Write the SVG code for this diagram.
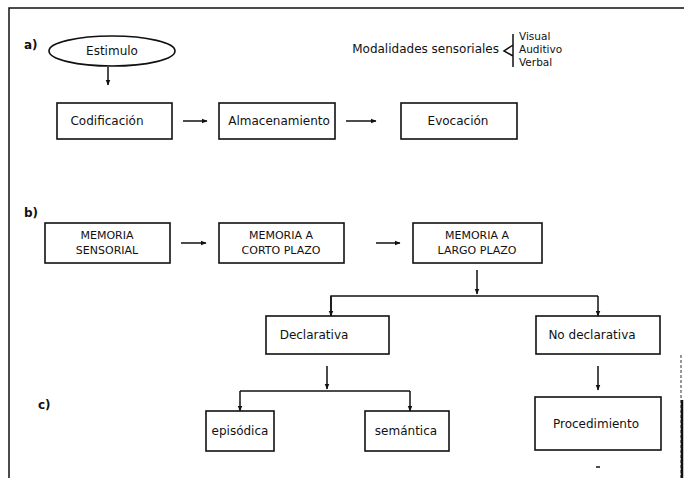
<svg xmlns="http://www.w3.org/2000/svg" width="684" height="478" viewBox="0 0 684 478">
<style>
.box{fill:none;stroke:#111;stroke-width:1.6}
.ln{fill:none;stroke:#111;stroke-width:1.5}
.ar{fill:none;stroke:#111;stroke-width:1.5;marker-end:url(#ah)}
text{font-family:"DejaVu Sans","Liberation Sans",sans-serif;font-size:12px;fill:#111;text-anchor:middle}
.lab{font-weight:bold;font-size:12px;text-anchor:start}
.st{text-anchor:start;font-size:10.5px}
.up{font-size:11px}
</style>
<defs>
<marker id="ah" viewBox="0 0 10 10" refX="9" refY="5" markerWidth="6" markerHeight="6" orient="auto" markerUnits="userSpaceOnUse">
<path d="M0,1 L10,5 L0,9 z" fill="#111"/>
</marker>
</defs>
<rect width="684" height="478" fill="#fff"/>
<g id="frame" class="ln">
<path d="M9,478 V8 H684"/>
<path d="M681,355 V478" stroke-dasharray="3 2" stroke="#777"/>
<path d="M682,400 V478" stroke-width="2.5"/>
</g>
<g id="labels">
<text class="lab" x="24" y="49">a)</text>
<text class="lab" x="24" y="217">b)</text>
<text class="lab" x="38" y="409">c)</text>
</g>
<g id="estimulo"><ellipse class="box" cx="112" cy="51" rx="63" ry="15"/><text x="112" y="55">Estimulo</text></g>
<g id="modalidades">
<text x="499" y="53" style="text-anchor:end">Modalidades sensoriales</text>
<path class="ln" d="M513,34 V67 M513,45 L504,51 L513,56"/>
<text class="st" x="519" y="40">Visual</text>
<text class="st" x="519" y="53">Auditivo</text>
<text class="st" x="519" y="66">Verbal</text>
</g>
<g id="codificacion"><rect class="box" x="57" y="103" width="115" height="36"/><text x="107" y="125">Codificación</text></g>
<g id="almacenamiento"><rect class="box" x="219" y="103" width="116" height="36"/><text x="279" y="125">Almacenamiento</text></g>
<g id="evocacion"><rect class="box" x="401" y="103" width="116" height="36"/><text x="458" y="125">Evocación</text></g>
<g id="sensorial"><rect class="box" x="45" y="223" width="125" height="40"/><text class="up" x="107" y="239">MEMORIA</text><text class="up" x="107" y="254">SENSORIAL</text></g>
<g id="corto"><rect class="box" x="219" y="223" width="125" height="40"/><text class="up" x="281" y="239">MEMORIA A</text><text class="up" x="281" y="254">CORTO PLAZO</text></g>
<g id="largo"><rect class="box" x="413" y="223" width="129" height="40"/><text class="up" x="477" y="239">MEMORIA A</text><text class="up" x="477" y="254">LARGO PLAZO</text></g>
<g id="declarativa"><rect class="box" x="266" y="316" width="123" height="38"/><text x="314" y="339">Declarativa</text></g>
<g id="nodeclarativa"><rect class="box" x="536" y="316" width="124" height="38"/><text x="592" y="339">No declarativa</text></g>
<g id="episodica"><rect class="box" x="206" y="411" width="68" height="40"/><text x="240" y="435">episódica</text></g>
<g id="semantica"><rect class="box" x="365" y="411" width="84" height="40"/><text x="406" y="435">semántica</text></g>
<g id="procedimiento"><rect class="box" x="535" y="397" width="126" height="53"/><text x="596" y="428">Procedimiento</text></g>
<g id="connectors">
<path class="ar" d="M108,67 V85"/>
<path class="ar" d="M183,121 H207"/>
<path class="ar" d="M346,121 H376"/>
<path class="ar" d="M181,243 H206"/>
<path class="ar" d="M376,243 H400"/>
<path class="ar" d="M477,270 V294"/>
<path class="ln" d="M331,316 V296 H598"/>
<path class="ar" d="M331,296 V316"/>
<path class="ar" d="M598,296 V316"/>
<path class="ar" d="M327,366 V389"/>
<path class="ln" d="M240,391 H410"/>
<path class="ar" d="M240,391 V411"/>
<path class="ar" d="M410,391 V411"/>
<path class="ar" d="M598,366 V390"/>
<path class="ln" d="M596,467 H600"/>
</g>
</svg>
